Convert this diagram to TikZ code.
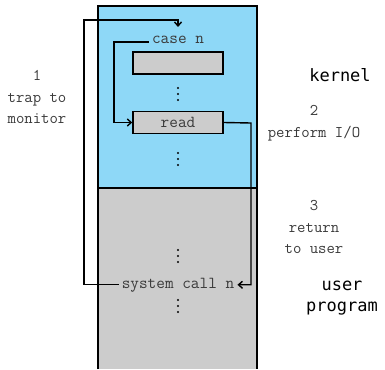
\documentclass[tikz,border=0pt]{standalone}
\usepackage{fontspec}
\newfontfamily\labelsans{DejaVu Sans Mono}
\usetikzlibrary{arrows.meta}
\definecolor{kernelblue}{HTML}{8ED8F7}
\definecolor{usergray}{HTML}{CCCCCC}
\definecolor{codetext}{HTML}{3A3A3A}
\begin{document}
\begin{tikzpicture}[x=1pt,y=-1pt,
  wire/.style={line width=1.4pt},
  flow/.style={wire,-{Straight Barb[length=4pt,width=7pt]}},
  code/.style={font=\fontsize{16.8}{21}\ttfamily, text=codetext, inner sep=3pt},
  note/.style={font=\fontsize{16.3}{21.5}\ttfamily, text=codetext, align=center},
  region/.style={font=\fontsize{17}{21}\labelsans, align=center},
  slot/.style={draw, line width=1.4pt, fill=usergray, minimum width=90pt, minimum height=22pt, inner sep=0pt},
  dot/.style={fill=black, draw=none}]
\useasboundingbox (0,0) rectangle (385,369);

% memory: kernel area on top, user program below
\fill[kernelblue] (98,6) rectangle (257,188);
\fill[usergray] (98,188) rectangle (257,369);
\draw[line width=1.4pt] (98,369) -- (98,6) -- (257,6) -- (257,369);
\draw[line width=1.4pt] (98,188) -- (257,188);

% kernel dispatch table
\node[code, anchor=base] (casen) at (178,44) {case n};
\node[slot] (entry) at (178,63) {};
\node[slot, code, inner sep=0pt] (read) at (178,122.5) {read};

% user program line
\node[code, anchor=base] (syscall) at (178,288) {system call n};

% vertical ellipses
\foreach \y in {88,153,250,300}
  \foreach \d in {0,6,12}
    \fill[dot] (178,\y+\d) circle (1.1pt);

% step labels
\node[note] (l1) at (37,97) {1\\trap to\\monitor};
\node[note] (l2) at (314,123) {2\\perform I/O};
\node[note] (l3) at (314,227) {3\\return\\to user};
\node[region] (kern) at (340,75) {kernel};
\node[region] (user) at (342,298) {user\\program};

% control transfers
\coordinate (trapleft) at (84,20);
\coordinate (casetop) at (178,27);
\coordinate (caseleft) at (114,42);
\coordinate (retright) at (251,123);
\draw[flow] (syscall.west) -| (trapleft) -| (casetop);
\draw[flow] (casen.west |- caseleft) -- (caseleft) |- (read.west);
\draw[flow] (read.east) -- (retright) |- (syscall.east);
\end{tikzpicture}
\end{document}
